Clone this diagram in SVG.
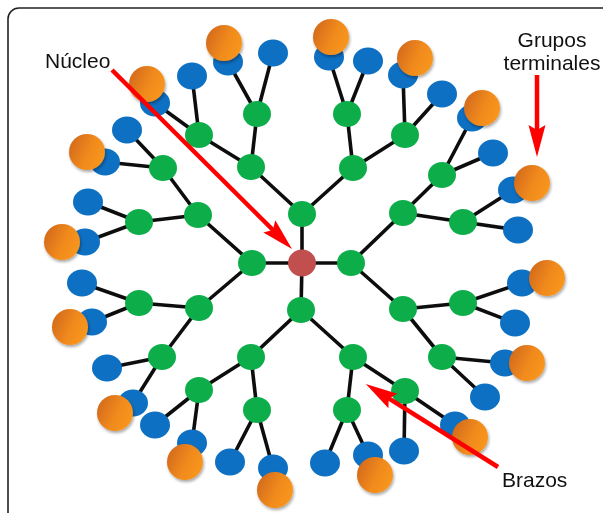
<svg xmlns="http://www.w3.org/2000/svg" width="603" height="513" viewBox="0 0 603 513">
<defs>
<linearGradient id="og" x1="0" y1="0.25" x2="1" y2="0.7">
<stop offset="0" stop-color="#d2691b"/>
<stop offset="0.55" stop-color="#f08a1e"/>
<stop offset="1" stop-color="#f9971f"/>
</linearGradient>
<filter id="sh" x="-40%" y="-40%" width="180%" height="180%">
<feGaussianBlur in="SourceAlpha" stdDeviation="1.6"/>
<feOffset dx="1" dy="2" result="b"/>
<feComponentTransfer><feFuncA type="linear" slope="0.35"/></feComponentTransfer>
<feMerge><feMergeNode/><feMergeNode in="SourceGraphic"/></feMerge>
</filter>
<filter id="soft" x="-20%" y="-20%" width="140%" height="140%">
<feGaussianBlur stdDeviation="0.6"/>
</filter>
<marker id="ah" markerUnits="userSpaceOnUse" markerWidth="34" markerHeight="18" viewBox="0 0 34 18" refX="20" refY="9" orient="auto">
<path d="M0,0.5 L32,9 L0,17.5 L5,9 Z" fill="#ff0000"/>
</marker>
</defs>
<style>
.frame{fill:#fff;stroke:#222;stroke-width:1.6}
.e{stroke:#111;stroke-width:3.6;stroke-linecap:round}
.g{fill:#0aad4a}
.b{fill:#0a6fc2}
.o{fill:url(#og);filter:url(#sh)}
.c{fill:#c0504d}
.arr{stroke:#ff0000;stroke-width:4.5;fill:none;marker-end:url(#ah)}
.t{font-family:"Liberation Sans",Arial,sans-serif;font-size:21px;fill:#111}
</style>
<rect class="frame" x="8" y="8" width="640" height="560" rx="11"/>
<g id="connectors">
<g filter="url(#soft)">
<line class="e" x1="302" y1="263" x2="302" y2="214"/>
<line class="e" x1="302" y1="263" x2="351" y2="263"/>
<line class="e" x1="302" y1="263" x2="301" y2="310"/>
<line class="e" x1="302" y1="263" x2="252" y2="263"/>
<line class="e" x1="302" y1="214" x2="251" y2="167"/>
<line class="e" x1="302" y1="214" x2="353" y2="168"/>
<line class="e" x1="351" y1="263" x2="403" y2="213"/>
<line class="e" x1="351" y1="263" x2="403" y2="309"/>
<line class="e" x1="301" y1="310" x2="353" y2="357"/>
<line class="e" x1="301" y1="310" x2="251" y2="357"/>
<line class="e" x1="252" y1="263" x2="199" y2="308"/>
<line class="e" x1="252" y1="263" x2="198" y2="215"/>
<line class="e" x1="251" y1="167" x2="199" y2="135"/>
<line class="e" x1="251" y1="167" x2="257" y2="114"/>
<line class="e" x1="353" y1="168" x2="347" y2="114"/>
<line class="e" x1="353" y1="168" x2="405" y2="135"/>
<line class="e" x1="403" y1="213" x2="442" y2="175"/>
<line class="e" x1="403" y1="213" x2="463" y2="222"/>
<line class="e" x1="403" y1="309" x2="463" y2="303"/>
<line class="e" x1="403" y1="309" x2="442" y2="357"/>
<line class="e" x1="353" y1="357" x2="405" y2="391"/>
<line class="e" x1="353" y1="357" x2="347" y2="410"/>
<line class="e" x1="251" y1="357" x2="257" y2="410"/>
<line class="e" x1="251" y1="357" x2="199" y2="390"/>
<line class="e" x1="199" y1="308" x2="162" y2="357"/>
<line class="e" x1="199" y1="308" x2="139" y2="303"/>
<line class="e" x1="198" y1="215" x2="139" y2="222"/>
<line class="e" x1="198" y1="215" x2="163" y2="168"/>
<line class="e" x1="199" y1="135" x2="155" y2="103"/>
<line class="e" x1="199" y1="135" x2="192" y2="76"/>
<line class="e" x1="257" y1="114" x2="228" y2="62"/>
<line class="e" x1="257" y1="114" x2="273" y2="53"/>
<line class="e" x1="347" y1="114" x2="329" y2="57"/>
<line class="e" x1="347" y1="114" x2="368" y2="61"/>
<line class="e" x1="405" y1="135" x2="403" y2="75"/>
<line class="e" x1="405" y1="135" x2="442" y2="94"/>
<line class="e" x1="442" y1="175" x2="472" y2="118"/>
<line class="e" x1="442" y1="175" x2="493" y2="153"/>
<line class="e" x1="463" y1="222" x2="513" y2="190"/>
<line class="e" x1="463" y1="222" x2="518" y2="230"/>
<line class="e" x1="463" y1="303" x2="522" y2="283"/>
<line class="e" x1="463" y1="303" x2="515" y2="323"/>
<line class="e" x1="442" y1="357" x2="505" y2="363"/>
<line class="e" x1="442" y1="357" x2="485" y2="397"/>
<line class="e" x1="405" y1="391" x2="455" y2="425"/>
<line class="e" x1="405" y1="391" x2="404" y2="451"/>
<line class="e" x1="347" y1="410" x2="368" y2="455"/>
<line class="e" x1="347" y1="410" x2="325" y2="463"/>
<line class="e" x1="257" y1="410" x2="273" y2="468"/>
<line class="e" x1="257" y1="410" x2="230" y2="462"/>
<line class="e" x1="199" y1="390" x2="192" y2="443"/>
<line class="e" x1="199" y1="390" x2="155" y2="425"/>
<line class="e" x1="162" y1="357" x2="133" y2="403"/>
<line class="e" x1="162" y1="357" x2="107" y2="368"/>
<line class="e" x1="139" y1="303" x2="92" y2="322"/>
<line class="e" x1="139" y1="303" x2="82" y2="283"/>
<line class="e" x1="139" y1="222" x2="85" y2="242"/>
<line class="e" x1="139" y1="222" x2="88" y2="202"/>
<line class="e" x1="163" y1="168" x2="105" y2="162"/>
<line class="e" x1="163" y1="168" x2="127" y2="130"/>
</g>
</g>
<g id="nodes" filter="url(#soft)">
<g id="core"><ellipse class="c" cx="302" cy="263" rx="14" ry="13.5"/></g>
<g id="g1-T"><ellipse class="g" cx="302" cy="214" rx="14" ry="13"/></g>
<g id="g1-R"><ellipse class="g" cx="351" cy="263" rx="14" ry="13"/></g>
<g id="g1-B"><ellipse class="g" cx="301" cy="310" rx="14" ry="13"/></g>
<g id="g1-L"><ellipse class="g" cx="252" cy="263" rx="14" ry="13"/></g>
<g id="g2-TL"><ellipse class="g" cx="251" cy="167" rx="14" ry="13"/></g>
<g id="g2-TR"><ellipse class="g" cx="353" cy="168" rx="14" ry="13"/></g>
<g id="g2-RT"><ellipse class="g" cx="403" cy="213" rx="14" ry="13"/></g>
<g id="g2-RB"><ellipse class="g" cx="403" cy="309" rx="14" ry="13"/></g>
<g id="g2-BR"><ellipse class="g" cx="353" cy="357" rx="14" ry="13"/></g>
<g id="g2-BL"><ellipse class="g" cx="251" cy="357" rx="14" ry="13"/></g>
<g id="g2-LB"><ellipse class="g" cx="199" cy="308" rx="14" ry="13"/></g>
<g id="g2-LT"><ellipse class="g" cx="198" cy="215" rx="14" ry="13"/></g>
<g id="g3-TL1"><ellipse class="g" cx="199" cy="135" rx="14" ry="13"/></g>
<g id="g3-TL2"><ellipse class="g" cx="257" cy="114" rx="14" ry="13"/></g>
<g id="g3-TR1"><ellipse class="g" cx="347" cy="114" rx="14" ry="13"/></g>
<g id="g3-TR2"><ellipse class="g" cx="405" cy="135" rx="14" ry="13"/></g>
<g id="g3-RT1"><ellipse class="g" cx="442" cy="175" rx="14" ry="13"/></g>
<g id="g3-RT2"><ellipse class="g" cx="463" cy="222" rx="14" ry="13"/></g>
<g id="g3-RB1"><ellipse class="g" cx="463" cy="303" rx="14" ry="13"/></g>
<g id="g3-RB2"><ellipse class="g" cx="442" cy="357" rx="14" ry="13"/></g>
<g id="g3-BR1"><ellipse class="g" cx="405" cy="391" rx="14" ry="13"/></g>
<g id="g3-BR2"><ellipse class="g" cx="347" cy="410" rx="14" ry="13"/></g>
<g id="g3-BL1"><ellipse class="g" cx="257" cy="410" rx="14" ry="13"/></g>
<g id="g3-BL2"><ellipse class="g" cx="199" cy="390" rx="14" ry="13"/></g>
<g id="g3-LB1"><ellipse class="g" cx="162" cy="357" rx="14" ry="13"/></g>
<g id="g3-LB2"><ellipse class="g" cx="139" cy="303" rx="14" ry="13"/></g>
<g id="g3-LT1"><ellipse class="g" cx="139" cy="222" rx="14" ry="13"/></g>
<g id="g3-LT2"><ellipse class="g" cx="163" cy="168" rx="14" ry="13"/></g>
<g id="t-TL1a"><ellipse class="b" cx="155" cy="103" rx="15" ry="13.5"/><circle class="o" cx="147" cy="84" r="18"/></g>
<g id="t-TL1b"><ellipse class="b" cx="192" cy="76" rx="15" ry="13.5"/></g>
<g id="t-TL2a"><ellipse class="b" cx="228" cy="62" rx="15" ry="13.5"/><circle class="o" cx="224" cy="43" r="18"/></g>
<g id="t-TL2b"><ellipse class="b" cx="273" cy="53" rx="15" ry="13.5"/></g>
<g id="t-TR1a"><ellipse class="b" cx="329" cy="57" rx="15" ry="13.5"/><circle class="o" cx="331" cy="37" r="18"/></g>
<g id="t-TR1b"><ellipse class="b" cx="368" cy="61" rx="15" ry="13.5"/></g>
<g id="t-TR2a"><ellipse class="b" cx="403" cy="75" rx="15" ry="13.5"/><circle class="o" cx="415" cy="58" r="18"/></g>
<g id="t-TR2b"><ellipse class="b" cx="442" cy="94" rx="15" ry="13.5"/></g>
<g id="t-RT1a"><ellipse class="b" cx="472" cy="118" rx="15" ry="13.5"/><circle class="o" cx="482" cy="108" r="18"/></g>
<g id="t-RT1b"><ellipse class="b" cx="493" cy="153" rx="15" ry="13.5"/></g>
<g id="t-RT2a"><ellipse class="b" cx="513" cy="190" rx="15" ry="13.5"/><circle class="o" cx="532" cy="183" r="18"/></g>
<g id="t-RT2b"><ellipse class="b" cx="518" cy="230" rx="15" ry="13.5"/></g>
<g id="t-RB1a"><ellipse class="b" cx="522" cy="283" rx="15" ry="13.5"/><circle class="o" cx="547" cy="278" r="18"/></g>
<g id="t-RB1b"><ellipse class="b" cx="515" cy="323" rx="15" ry="13.5"/></g>
<g id="t-RB2a"><ellipse class="b" cx="505" cy="363" rx="15" ry="13.5"/><circle class="o" cx="527" cy="363" r="18"/></g>
<g id="t-RB2b"><ellipse class="b" cx="485" cy="397" rx="15" ry="13.5"/></g>
<g id="t-BR1a"><ellipse class="b" cx="455" cy="425" rx="15" ry="13.5"/><circle class="o" cx="470" cy="437" r="18"/></g>
<g id="t-BR1b"><ellipse class="b" cx="404" cy="451" rx="15" ry="13.5"/></g>
<g id="t-BR2a"><ellipse class="b" cx="368" cy="455" rx="15" ry="13.5"/><circle class="o" cx="375" cy="475" r="18"/></g>
<g id="t-BR2b"><ellipse class="b" cx="325" cy="463" rx="15" ry="13.5"/></g>
<g id="t-BL1a"><ellipse class="b" cx="273" cy="468" rx="15" ry="13.5"/><circle class="o" cx="275" cy="490" r="18"/></g>
<g id="t-BL1b"><ellipse class="b" cx="230" cy="462" rx="15" ry="13.5"/></g>
<g id="t-BL2a"><ellipse class="b" cx="192" cy="443" rx="15" ry="13.5"/><circle class="o" cx="185" cy="462" r="18"/></g>
<g id="t-BL2b"><ellipse class="b" cx="155" cy="425" rx="15" ry="13.5"/></g>
<g id="t-LB1a"><ellipse class="b" cx="133" cy="403" rx="15" ry="13.5"/><circle class="o" cx="115" cy="413" r="18"/></g>
<g id="t-LB1b"><ellipse class="b" cx="107" cy="368" rx="15" ry="13.5"/></g>
<g id="t-LB2a"><ellipse class="b" cx="92" cy="322" rx="15" ry="13.5"/><circle class="o" cx="70" cy="327" r="18"/></g>
<g id="t-LB2b"><ellipse class="b" cx="82" cy="283" rx="15" ry="13.5"/></g>
<g id="t-LT1a"><ellipse class="b" cx="85" cy="242" rx="15" ry="13.5"/><circle class="o" cx="62" cy="242" r="18"/></g>
<g id="t-LT1b"><ellipse class="b" cx="88" cy="202" rx="15" ry="13.5"/></g>
<g id="t-LT2a"><ellipse class="b" cx="105" cy="162" rx="15" ry="13.5"/><circle class="o" cx="87" cy="152" r="18"/></g>
<g id="t-LT2b"><ellipse class="b" cx="127" cy="130" rx="15" ry="13.5"/></g>
</g>
<g id="labels">
<g id="label-nucleo">
<text class="t" x="45" y="68">Núcleo</text>
<path class="arr" d="M112,70 L283.5,240.5"/>
</g>
<g id="label-grupos">
<text class="t" x="552" y="47" text-anchor="middle">Grupos</text>
<text class="t" x="552" y="70" text-anchor="middle">terminales</text>
<path class="arr" d="M537,75 L537,145"/>
</g>
<g id="label-brazos">
<text class="t" x="502" y="487">Brazos</text>
<path class="arr" d="M498,467 L376,390.4"/>
</g>
</g>
</svg>
